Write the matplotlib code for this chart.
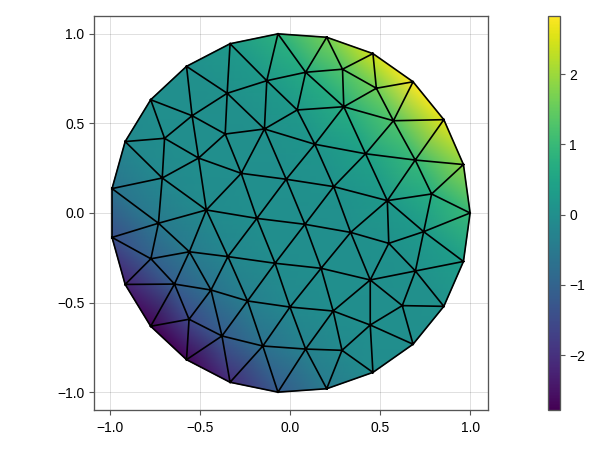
import numpy as np
import matplotlib
matplotlib.use('Agg')
import matplotlib.pyplot as plt
import matplotlib.tri as mtri

plt.rcParams['font.family'] = ['Liberation Sans', 'DejaVu Sans']

# mesh nodes: boundary first, then interior
node_x = [1.000, 0.963, 0.854, 0.683, 0.460, 0.203, -0.068, -0.334, -0.576, -0.775, -0.917, -0.990,
          -0.990, -0.917, -0.775, -0.576, -0.334, -0.068, 0.203, 0.460, 0.683, 0.854, 0.963,
          -0.130, -0.350, -0.143, -0.545, -0.361, -0.698, -0.509, -0.272, -0.022, -0.711, -0.466,
          -0.732, -0.185, -0.560, -0.774, -0.346, -0.084, -0.643, -0.440, -0.237, -0.001, -0.562, -0.379, -0.152,
          0.086, 0.291, 0.479, 0.039, 0.298, 0.574, 0.137, 0.419, 0.695, 0.242, 0.540, 0.786,
          0.082, 0.336, 0.742, 0.548, 0.172, 0.696, 0.445, 0.239, 0.623, 0.445, 0.086, 0.288]
node_y = [0.000, 0.270, 0.520, 0.731, 0.888, 0.979, 0.998, 0.943, 0.817, 0.631, 0.398, 0.136,
          -0.136, -0.398, -0.631, -0.817, -0.943, -0.998, -0.979, -0.888, -0.731, -0.520, -0.270,
          0.737, 0.667, 0.468, 0.542, 0.440, 0.416, 0.306, 0.221, 0.188, 0.195, 0.017,
          -0.057, -0.030, -0.216, -0.255, -0.243, -0.280, -0.396, -0.429, -0.490, -0.524, -0.592, -0.685, -0.741,
          0.784, 0.801, 0.695, 0.574, 0.592, 0.514, 0.383, 0.330, 0.295, 0.147, 0.069, 0.106,
          -0.063, -0.108, -0.104, -0.169, -0.308, -0.323, -0.373, -0.546, -0.516, -0.624, -0.758, -0.765]
node_u = [1.00, 1.875, 2.594, 2.827, 2.449, 1.651, 0.804, 0.226, 0.014, -0.003, -0.140, -0.623,
          -1.428, -2.274, -2.779, -2.703, -2.082, -1.211, -0.467, -0.078, 0.0, 0.037, 0.333,
          0.224, 0.032, 0.034, 0.0, 0.0, -0.022, -0.008, 0.0, 0.005, -0.137, -0.091,
          -0.491, -0.010, -0.467, -1.09, -0.204, -0.048, -1.122, -0.656, -0.384, -0.145, -1.537, -1.205, -0.712,
          0.659, 1.302, 1.618, 0.230, 0.705, 1.288, 0.141, 0.420, 0.970, 0.059, 0.226, 0.710,
          0.0, 0.012, 0.260, 0.054, -0.003, 0.052, 0.0, -0.029, 0.001, -0.006, -0.303, -0.109]

# connectivity traced from the crops
# outer ring of triangles
outer_tris = [(0, 1, 58), (1, 2, 55), (2, 3, 52), (3, 4, 49), (4, 5, 48), (5, 6, 47), (6, 7, 23), (7, 8, 24),
              (8, 9, 26), (9, 10, 28), (10, 11, 32), (11, 12, 34), (12, 13, 37), (13, 14, 40), (14, 15, 44),
              (15, 16, 45), (16, 17, 46), (17, 18, 69), (18, 19, 70), (19, 20, 68), (20, 21, 67), (21, 22, 64),
              (22, 0, 61),
              (0, 58, 61), (1, 58, 55), (2, 55, 52), (3, 52, 49), (4, 49, 48), (5, 48, 47), (6, 47, 23), (7, 23, 24),
              (8, 24, 26), (9, 26, 28), (10, 28, 32), (11, 32, 34), (12, 34, 37), (13, 37, 40), (14, 40, 44),
              (15, 44, 45), (16, 45, 46), (17, 46, 69), (18, 69, 70), (19, 70, 68), (20, 68, 67), (21, 67, 64),
              (22, 64, 61)]
inner_tris = [(23, 24, 25), (24, 25, 27), (24, 26, 27), (26, 27, 29), (26, 28, 29), (28, 29, 32), (29, 32, 33),
              (29, 30, 33), (27, 29, 30), (25, 27, 30), (25, 30, 31), (25, 31, 53), (25, 50, 53), (23, 25, 50),
              (23, 47, 50), (47, 50, 51), (47, 48, 51), (48, 49, 51), (49, 51, 52), (51, 52, 54), (52, 54, 55),
              (54, 55, 57), (55, 57, 58), (57, 58, 61), (51, 53, 54), (50, 51, 53), (53, 54, 56), (31, 53, 56),
              (54, 56, 57), (56, 57, 60), (57, 60, 62), (57, 61, 62), (61, 62, 64), (62, 64, 65), (60, 62, 65),
              (64, 65, 67), (65, 67, 68), (65, 66, 68), (63, 65, 66), (60, 63, 65), (59, 60, 63), (56, 59, 60),
              (31, 56, 59), (31, 35, 59), (30, 31, 35), (30, 33, 35), (33, 35, 38), (35, 38, 39), (35, 39, 59),
              (39, 59, 63), (39, 43, 63), (43, 63, 66), (43, 66, 69), (66, 69, 70), (66, 68, 70), (43, 46, 69),
              (42, 43, 46), (39, 42, 43), (38, 39, 42), (38, 41, 42), (41, 42, 45), (42, 45, 46), (41, 44, 45),
              (40, 41, 44), (36, 40, 41), (36, 38, 41), (33, 36, 38), (33, 34, 36), (32, 33, 34), (34, 36, 37),
              (36, 37, 40)]
tick_vals = [-1.0, -0.5, 0.0, 0.5, 1.0]
cbar_ticks = [-2, -1, 0, 1, 2]

W, H = 600, 450
fig = plt.figure(figsize=(W / 100, H / 100), dpi=100)
ax = fig.add_axes([94 / W, 1 - 410 / H, 394 / W, 394 / H])
cax = fig.add_axes([548 / W, 1 - 410 / H, 12 / W, 394 / H])

tri = mtri.Triangulation(node_x, node_y, outer_tris + inner_tris)
mesh = ax.tripcolor(tri, node_u, shading='gouraud', cmap='viridis', vmin=min(node_u), vmax=max(node_u), zorder=2)
ax.triplot(tri, color='black', lw=1.2, zorder=3)

ax.set_xlim(-1.0902, 1.0995)
ax.set_ylim(-1.0975, 1.0975)
ax.set_xticks(tick_vals)
ax.set_yticks(tick_vals)
ax.set_xticklabels(['\u22121.0', '\u22120.5', '0.0', '0.5', '1.0'])
ax.set_yticklabels(['\u22121.0', '\u22120.5', '0.0', '0.5', '1.0'])
ax.grid(True, color='black', alpha=0.12, lw=0.72, zorder=0)
ax.set_axisbelow(True)
ax.tick_params(length=3.5, width=0.8, color='#555555', labelsize=10)
ax.tick_params(axis='x', pad=4.5)
ax.tick_params(axis='y', pad=3.5)
for s in ax.spines.values():
    s.set_linewidth(0.95)
    s.set_color('#555555')

cb = fig.colorbar(mesh, cax=cax)
cb.set_ticks(cbar_ticks)
cb.set_ticklabels(['\u22122', '\u22121', '0', '1', '2'])
cb.ax.tick_params(length=3.5, width=0.8, color='#555555', labelsize=10, pad=3)
cb.outline.set_linewidth(0.95)
cb.outline.set_edgecolor('#555555')

fig.savefig('out.png', dpi=100)
